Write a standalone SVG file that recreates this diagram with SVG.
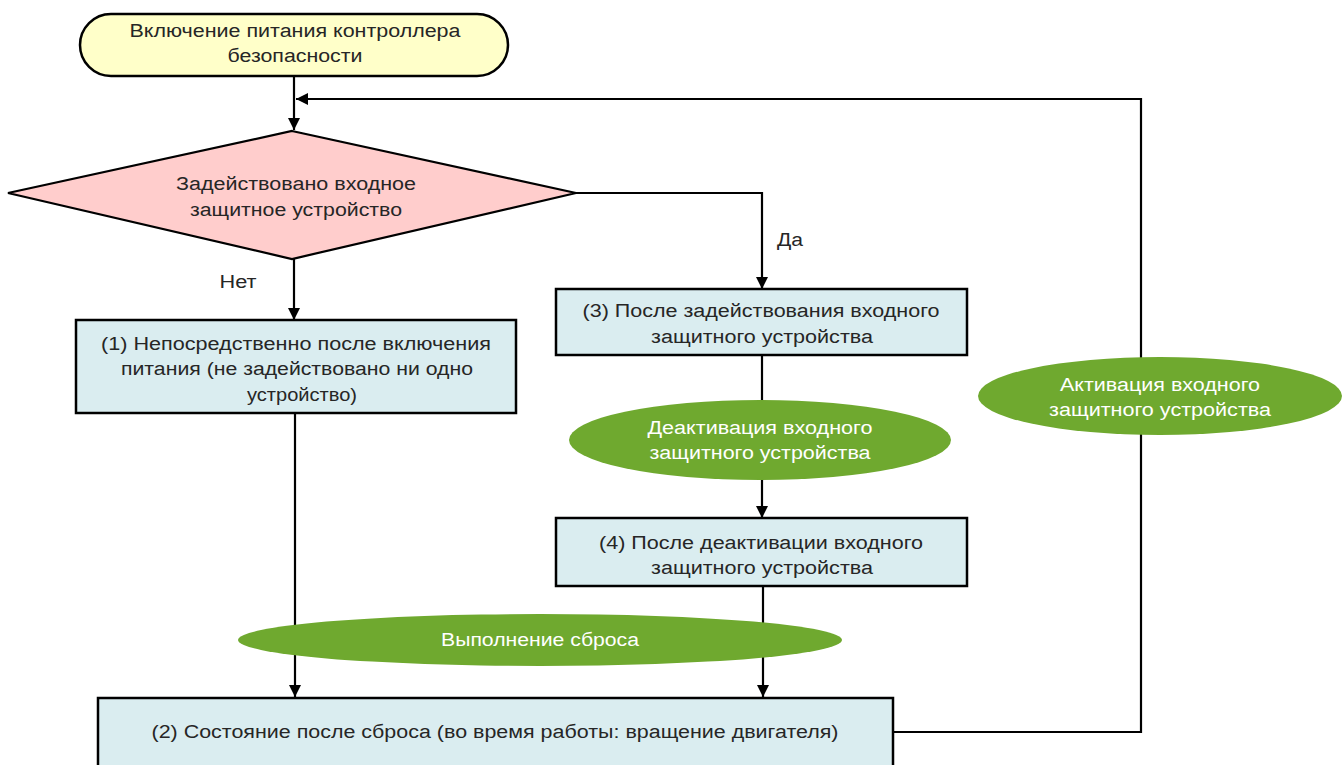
<svg xmlns="http://www.w3.org/2000/svg" width="1343" height="765" viewBox="0 0 1343 765">
  <style>
    .t { font-family: "Liberation Sans", Arial, sans-serif; font-size: 18px; fill: #262626; text-anchor: middle; }
    .w { fill: #ffffff; }
    .box { fill: #daedf0; stroke: #000; stroke-width: 2.5; }
    .ev { fill: #6fa92f; }
    .ln { fill: none; stroke: #000; stroke-width: 2.2; }
  </style>
  <defs>
    <marker id="arrow" viewBox="0 0 10 10" refX="10" refY="5" markerWidth="12" markerHeight="12" orient="auto" markerUnits="userSpaceOnUse">
      <path d="M0,0 L10,5 L0,10 z" fill="#000"/>
    </marker>
  </defs>
  <rect width="1343" height="765" fill="#ffffff"/>

  <g id="connectors">
    <path class="ln" d="M294,76 V130" marker-end="url(#arrow)"/>
    <path class="ln" d="M1141,732 H893"/>
    <path class="ln" d="M1141,733 V99 H296" marker-end="url(#arrow)"/>
    <path class="ln" d="M576,193 H762 V289" marker-end="url(#arrow)"/>
    <path class="ln" d="M294,259 V320" marker-end="url(#arrow)"/>
    <path class="ln" d="M762,355 V518" marker-end="url(#arrow)"/>
    <path class="ln" d="M295,413 V697" marker-end="url(#arrow)"/>
    <path class="ln" d="M763,586 V697" marker-end="url(#arrow)"/>
    <text class="t" x="790" y="246" textLength="26" lengthAdjust="spacingAndGlyphs">Да</text>
    <text class="t" x="238" y="288" textLength="37" lengthAdjust="spacingAndGlyphs">Нет</text>
  </g>

  <g id="start">
    <rect x="80" y="14" width="428" height="62" rx="31" ry="31" fill="#ffffc9" stroke="#000" stroke-width="2.5"/>
    <text class="t" x="295" y="37" textLength="331" lengthAdjust="spacingAndGlyphs">Включение питания контроллера</text>
    <text class="t" x="295" y="62" textLength="135" lengthAdjust="spacingAndGlyphs">безопасности</text>
  </g>

  <g id="decision">
    <polygon points="292,131 576,193 292,259 8,193" fill="#ffcdcc" stroke="#000" stroke-width="2.2"/>
    <text class="t" x="296" y="190" textLength="240" lengthAdjust="spacingAndGlyphs">Задействовано входное</text>
    <text class="t" x="296" y="216" textLength="212" lengthAdjust="spacingAndGlyphs">защитное устройство</text>
  </g>

  <g id="state1">
    <rect class="box" x="76" y="320" width="440" height="93"/>
    <text class="t" x="296" y="350" textLength="390" lengthAdjust="spacingAndGlyphs">(1) Непосредственно после включения</text>
    <text class="t" x="297" y="375" textLength="352" lengthAdjust="spacingAndGlyphs">питания (не задействовано ни одно</text>
    <text class="t" x="302" y="401" textLength="110" lengthAdjust="spacingAndGlyphs">устройство)</text>
  </g>

  <g id="state3">
    <rect class="box" x="556" y="289" width="411" height="66"/>
    <text class="t" x="761" y="317" textLength="357" lengthAdjust="spacingAndGlyphs">(3) После задействования входного</text>
    <text class="t" x="762" y="343" textLength="222" lengthAdjust="spacingAndGlyphs">защитного устройства</text>
  </g>

  <g id="deactivation">
    <ellipse class="ev" cx="760" cy="440" rx="191" ry="40"/>
    <text class="t w" x="760" y="434" textLength="225" lengthAdjust="spacingAndGlyphs">Деактивация входного</text>
    <text class="t w" x="760" y="459" textLength="221" lengthAdjust="spacingAndGlyphs">защитного устройства</text>
  </g>

  <g id="state4">
    <rect class="box" x="556" y="518" width="411" height="68"/>
    <text class="t" x="761" y="549" textLength="324" lengthAdjust="spacingAndGlyphs">(4) После деактивации входного</text>
    <text class="t" x="762" y="574" textLength="222" lengthAdjust="spacingAndGlyphs">защитного устройства</text>
  </g>

  <g id="reset">
    <ellipse class="ev" cx="540" cy="640" rx="302" ry="26"/>
    <text class="t w" x="540" y="646" textLength="198" lengthAdjust="spacingAndGlyphs">Выполнение сброса</text>
  </g>

  <g id="state2">
    <rect class="box" x="98" y="698" width="795" height="70"/>
    <text class="t" x="495" y="738" textLength="687" lengthAdjust="spacingAndGlyphs">(2) Состояние после сброса (во время работы: вращение двигателя)</text>
  </g>

  <g id="activation">
    <ellipse class="ev" cx="1160" cy="396" rx="182" ry="39"/>
    <text class="t w" x="1160" y="391" textLength="200" lengthAdjust="spacingAndGlyphs">Активация входного</text>
    <text class="t w" x="1160" y="416" textLength="222" lengthAdjust="spacingAndGlyphs">защитного устройства</text>
  </g>
</svg>
